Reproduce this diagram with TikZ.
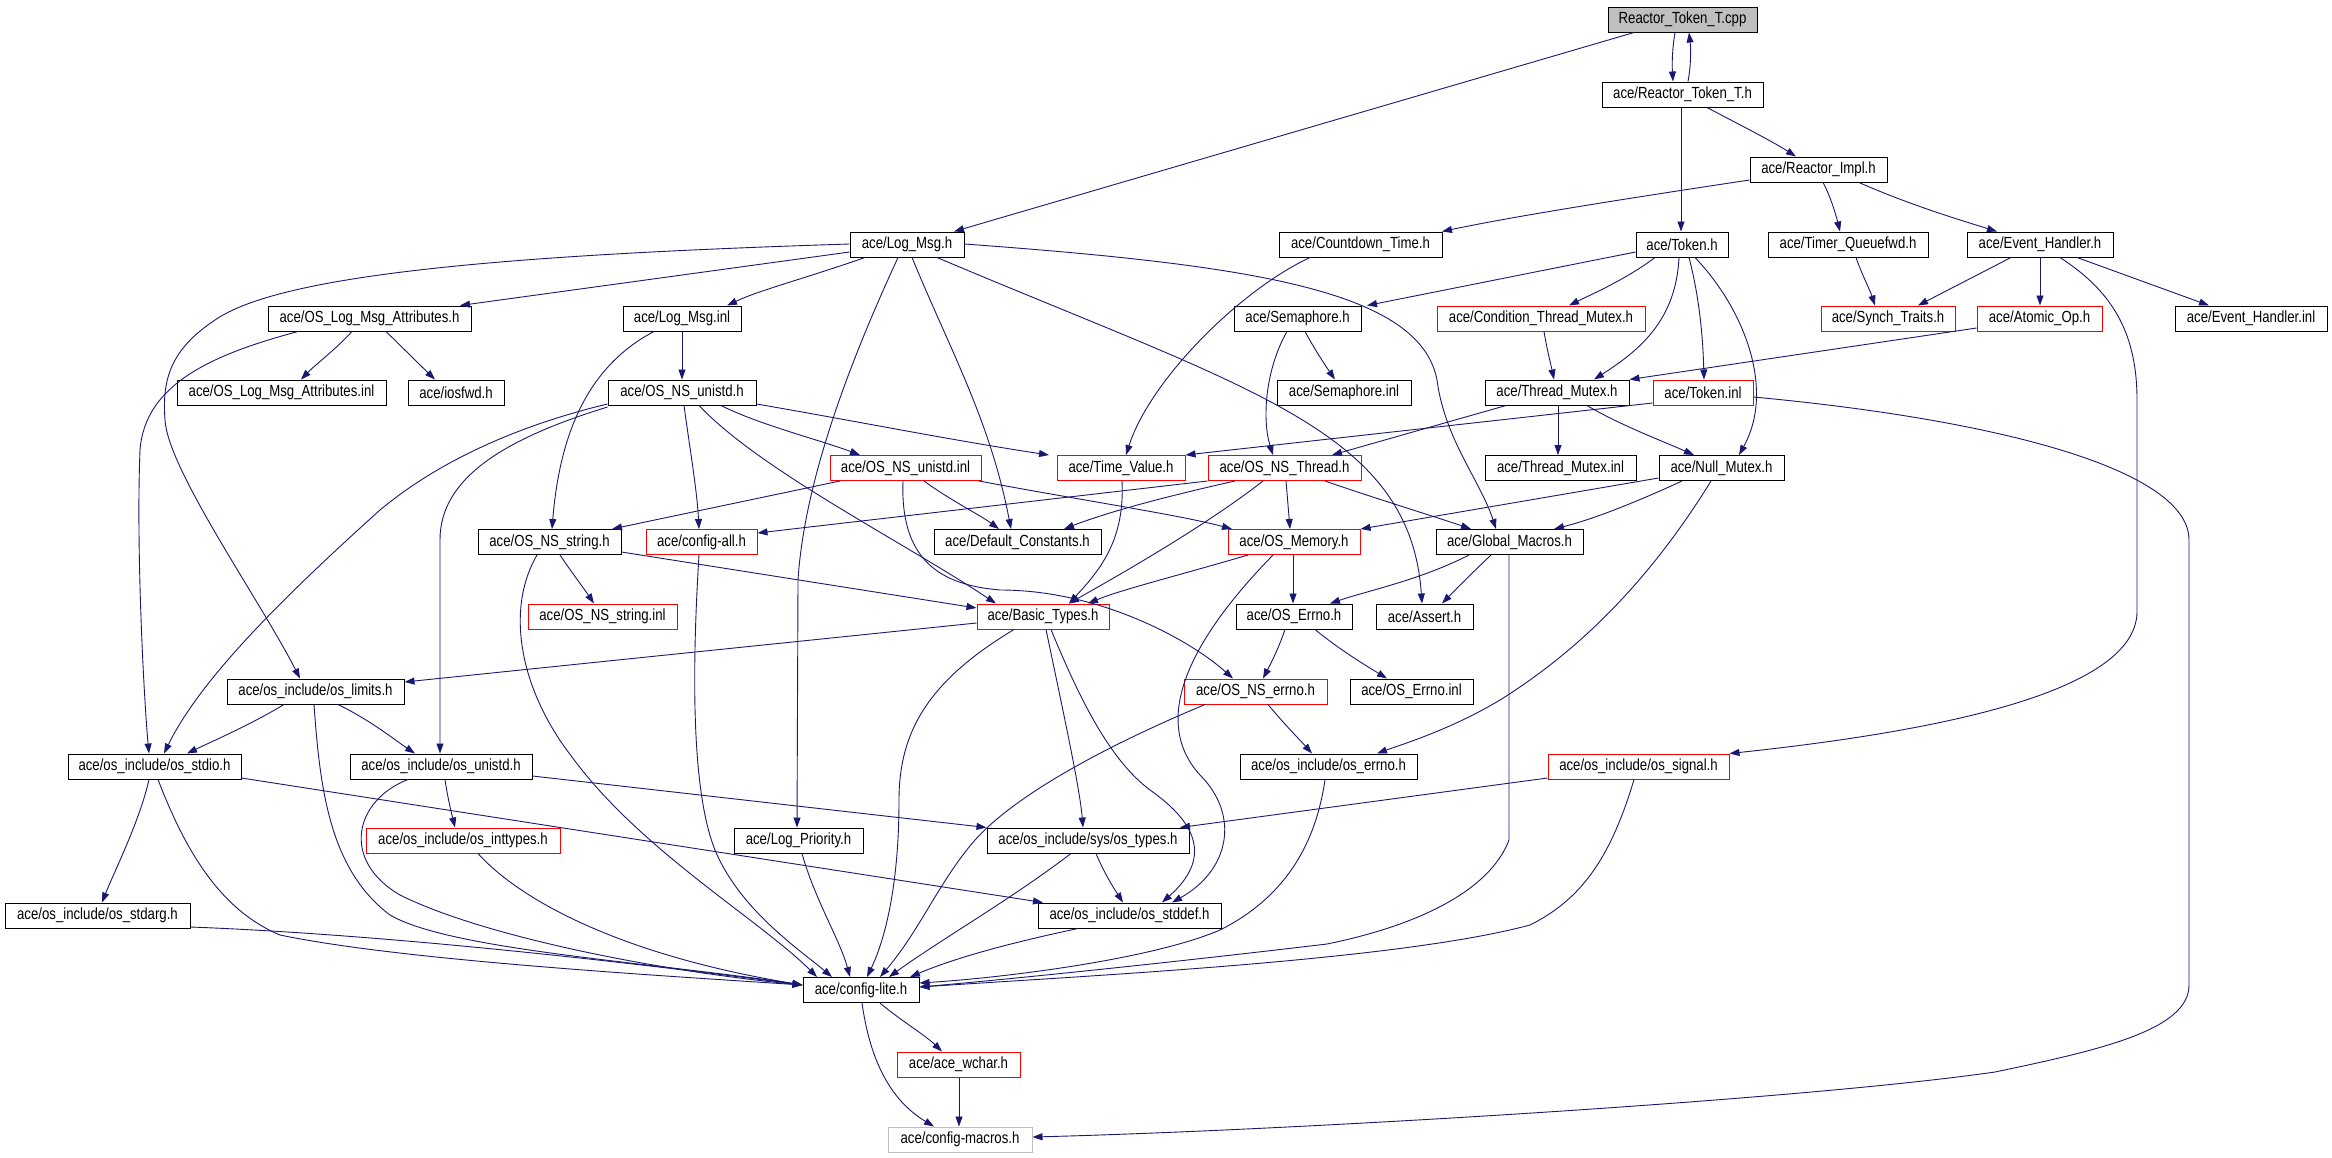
\documentclass[tikz,border=0pt]{standalone}
\usepackage{fontspec}
\usepackage{graphicx}
\setmainfont{Liberation Sans}
\usetikzlibrary{arrows.meta}
\definecolor{edgecol}{HTML}{191970}
\definecolor{lgray}{HTML}{BFBFBF}
\newcommand{\lbl}[1]{\scalebox{1}[1.22]{#1}}
\tikzset{
  nb/.style={draw=black, line width=1pt, minimum height=25pt, inner sep=0pt, fill=white, font=\fontsize{13.2}{15}\selectfont},
  rb/.style={nb, draw=red},
  dep/.style={draw=edgecol, line width=0.9pt, -{Triangle[length=10pt,width=7pt]}}
}
\begin{document}
\begin{tikzpicture}[x=1pt,y=-1pt]
\useasboundingbox (0,0) rectangle (2332,1157);
\fill[white] (0,0) rectangle (2332,1157);
% row 0-2
\node[nb, fill=lgray, minimum width=149pt] (cpp) at (1682.5,19.5) {\lbl{Reactor\_Token\_T.cpp}};
\node[nb, minimum width=161pt] (rtth) at (1682.5,94.5) {\lbl{ace/Reactor\_Token\_T.h}};
\node[nb, minimum width=137pt] (rimpl) at (1818.5,169.5) {\lbl{ace/Reactor\_Impl.h}};
% row 3
\node[nb, minimum width=114pt] (logmsg) at (907,244.5) {\lbl{ace/Log\_Msg.h}};
\node[nb, minimum width=163pt] (cdt) at (1360.5,244.5) {\lbl{ace/Countdown\_Time.h}};
\node[nb, minimum width=92pt] (token) at (1682,244.5) {\lbl{ace/Token.h}};
\node[nb, minimum width=160pt] (tqfwd) at (1848,244.5) {\lbl{ace/Timer\_Queuefwd.h}};
\node[nb, minimum width=146pt] (evh) at (2040,244.5) {\lbl{ace/Event\_Handler.h}};
% row 4
\node[nb, minimum width=203pt] (olma) at (369.5,318.5) {\lbl{ace/OS\_Log\_Msg\_Attributes.h}};
\node[nb, minimum width=118pt] (lminl) at (682,318.5) {\lbl{ace/Log\_Msg.inl}};
\node[nb, minimum width=127pt] (sema) at (1297.5,318.5) {\lbl{ace/Semaphore.h}};
\node[rb, minimum width=208pt] (ctm) at (1541,318.5) {\lbl{ace/Condition\_Thread\_Mutex.h}};
\node[rb, minimum width=134pt] (synch) at (1888,318.5) {\lbl{ace/Synch\_Traits.h}};
\node[rb, minimum width=125pt] (atomic) at (2039.5,318.5) {\lbl{ace/Atomic\_Op.h}};
\node[nb, minimum width=152pt] (evhinl) at (2251,318.5) {\lbl{ace/Event\_Handler.inl}};
% row 5
\node[nb, minimum width=209pt] (olmainl) at (281.5,392.5) {\lbl{ace/OS\_Log\_Msg\_Attributes.inl}};
\node[nb, minimum width=96pt] (iosfwd) at (456,392.5) {\lbl{ace/iosfwd.h}};
\node[nb, minimum width=148pt] (nsunistd) at (682,392.5) {\lbl{ace/OS\_NS\_unistd.h}};
\node[nb, minimum width=134pt] (semainl) at (1344,392.5) {\lbl{ace/Semaphore.inl}};
\node[nb, minimum width=144pt] (tmutex) at (1557,392.5) {\lbl{ace/Thread\_Mutex.h}};
\node[rb, minimum width=100pt] (tokeninl) at (1703,392.5) {\lbl{ace/Token.inl}};
% row 6
\node[rb, minimum width=151pt] (nsunistdinl) at (905.5,468) {\lbl{ace/OS\_NS\_unistd.inl}};
\node[rb, minimum width=128pt] (timeval) at (1121,468) {\lbl{ace/Time\_Value.h}};
\node[rb, minimum width=153pt] (nsthread) at (1284.5,468) {\lbl{ace/OS\_NS\_Thread.h}};
\node[nb, minimum width=151pt] (tmutexinl) at (1560.5,468) {\lbl{ace/Thread\_Mutex.inl}};
\node[nb, minimum width=125pt] (nullmutex) at (1721.5,468) {\lbl{ace/Null\_Mutex.h}};
% row 7
\node[nb, minimum width=143pt] (nsstring) at (549.5,542) {\lbl{ace/OS\_NS\_string.h}};
\node[rb, minimum width=111pt] (configall) at (701.5,542) {\lbl{ace/config-all.h}};
\node[nb, minimum width=167pt] (defconst) at (1017.5,542) {\lbl{ace/Default\_Constants.h}};
\node[rb, minimum width=132pt] (osmem) at (1294,542) {\lbl{ace/OS\_Memory.h}};
\node[nb, minimum width=147pt] (globmac) at (1509.5,542) {\lbl{ace/Global\_Macros.h}};
% row 8
\node[rb, minimum width=149pt] (nsstringinl) at (602.5,616.5) {\lbl{ace/OS\_NS\_string.inl}};
\node[rb, minimum width=132pt] (basictypes) at (1043,616.5) {\lbl{ace/Basic\_Types.h}};
\node[nb, minimum width=116pt] (oserrno) at (1294,616.5) {\lbl{ace/OS\_Errno.h}};
\node[nb, minimum width=97pt] (assert) at (1424.5,616.5) {\lbl{ace/Assert.h}};
% row 9
\node[nb, minimum width=177pt] (oslimits) at (315.5,691.5) {\lbl{ace/os\_include/os\_limits.h}};
\node[rb, minimum width=143pt] (nserrno) at (1255.5,691.5) {\lbl{ace/OS\_NS\_errno.h}};
\node[nb, minimum width=123pt] (oserrnoinl) at (1411.5,691.5) {\lbl{ace/OS\_Errno.inl}};
% row 10
\node[nb, minimum width=173pt] (osstdio) at (154.5,766.5) {\lbl{ace/os\_include/os\_stdio.h}};
\node[nb, minimum width=182pt] (osunistd) at (441,766.5) {\lbl{ace/os\_include/os\_unistd.h}};
\node[nb, minimum width=177pt] (oserrnoh) at (1328.5,766.5) {\lbl{ace/os\_include/os\_errno.h}};
\node[rb, minimum width=181pt] (ossignal) at (1638.5,766.5) {\lbl{ace/os\_include/os\_signal.h}};
% row 11
\node[rb, minimum width=194pt] (osinttypes) at (463,840.5) {\lbl{ace/os\_include/os\_inttypes.h}};
\node[nb, minimum width=129pt] (logprio) at (798.5,840.5) {\lbl{ace/Log\_Priority.h}};
\node[nb, minimum width=202pt] (ostypes) at (1088,840.5) {\lbl{ace/os\_include/sys/os\_types.h}};
% row 12
\node[nb, minimum width=185pt] (osstdarg) at (97.5,915.5) {\lbl{ace/os\_include/os\_stdarg.h}};
\node[nb, minimum width=183pt] (osstddef) at (1129.5,915.5) {\lbl{ace/os\_include/os\_stddef.h}};
% row 13-15
\node[nb, minimum width=116pt] (configlite) at (861,990) {\lbl{ace/config-lite.h}};
\node[rb, minimum width=123pt] (wchar) at (958.5,1064.5) {\lbl{ace/ace\_wchar.h}};
\node[nb, draw=lgray, minimum width=144pt] (cmacros) at (960,1139.5) {\lbl{ace/config-macros.h}};

% ---- edges ----
\draw[dep] (cpp.south -| 1675,0) .. controls (1672,50) and (1672,65) .. (rtth.north -| 1673,0);
\draw[dep] (rtth.north -| 1688,0) .. controls (1691,65) and (1691,50) .. (cpp.south -| 1689,0);
\draw[dep] (cpp.south -| 1634,0) -- (logmsg.north -| 954,0);
\draw[dep] (rtth.south -| 1681,0) -- (token.north -| 1681,0);
\draw[dep] (rtth.south -| 1707,0) .. controls (1740,125) and (1770,140) .. (rimpl.north -| 1796,0);
\draw[dep] (rimpl.west |- 0,180) .. controls (1650,195) and (1520,215) .. (cdt.north -| 1442,0);
\draw[dep] (rimpl.south -| 1823,0) .. controls (1830,195) and (1836,215) .. (tqfwd.north -| 1840,0);
\draw[dep] (rimpl.south -| 1859,0) .. controls (1910,205) and (1960,220) .. (evh.north -| 1997,0);
% Token.h
\draw[dep] (token.west |- 0,252) -- (sema.north -| 1367,0);
\draw[dep] (token.south -| 1655,0) .. controls (1625,280) and (1590,295) .. (ctm.north -| 1569,0);
\draw[dep] (token.south -| 1679,0) .. controls (1676,320) and (1640,350) .. (tmutex.north -| 1594,0);
\draw[dep] (token.south -| 1689,0) .. controls (1700,300) and (1703,340) .. (tokeninl.north -| 1704,0);
\draw[dep] (token.south -| 1695,0) .. controls (1745,310) and (1775,390) .. (nullmutex.north -| 1739,0);
% Timer_Queuefwd / Event_Handler
\draw[dep] (tqfwd.south -| 1856,0) .. controls (1862,275) and (1870,290) .. (synch.north -| 1875,0);
\draw[dep] (evh.south -| 2011,0) -- (synch.north -| 1918,0);
\draw[dep] (evh.south -| 2040,0) -- (atomic.north -| 2040,0);
\draw[dep] (evh.south -| 2077,0) -- (evhinl.north -| 2209,0);
\draw[dep] (evh.south -| 2060,0) .. controls (2110,290) and (2137,330) .. (2137,400) -- (2137,613) .. controls (2134,690) and (1950,730) .. (ossignal.north east);
\draw[dep] (atomic.west |- 0,328) -- (tmutex.north east);
% Token.inl
\draw[dep] (tokeninl.west |- 0,403) -- (timeval.north east);
\draw[dep] (tokeninl.east |- 0,397) .. controls (2000,420) and (2189,470) .. (2189,540) -- (2189,985) .. controls (2189,1030) and (2100,1050) .. (1995,1072) .. controls (1800,1100) and (1300,1130) .. (cmacros.east |- 0,1137);
% Thread_Mutex etc.
\draw[dep] (tmutex.south -| 1506,0) -- (nsthread.north -| 1332,0);
\draw[dep] (tmutex.south -| 1558,0) -- (tmutexinl.north -| 1558,0);
\draw[dep] (tmutex.south -| 1587,0) .. controls (1620,425) and (1660,440) .. (nullmutex.north -| 1694,0);
\draw[dep] (ctm.south -| 1544,0) .. controls (1547,350) and (1551,365) .. (tmutex.north -| 1554,0);
\draw[dep] (sema.south -| 1305,0) .. controls (1315,350) and (1325,365) .. (semainl.north -| 1335,0);
\draw[dep] (sema.south -| 1287,0) .. controls (1265,370) and (1262,420) .. (nsthread.north -| 1273,0);
\draw[dep] (cdt.south -| 1310,0) .. controls (1240,290) and (1150,380) .. (timeval.north -| 1126,0);
% Log_Msg.h
\draw[dep] (logmsg.west |- 0,252) -- (olma.north -| 460,0);
\draw[dep] (logmsg.west |- 0,244) .. controls (500,255) and (280,275) .. (215,320) .. controls (170,350) and (162,380) .. (165,420) .. controls (168,470) and (260,600) .. (oslimits.north -| 300,0);
\draw[dep] (logmsg.south -| 865,0) .. controls (800,280) and (760,290) .. (lminl.north -| 727,0);
\draw[dep] (logmsg.south -| 898,0) .. controls (860,340) and (805,470) .. (798,580) -- (logprio.north -| 797,0);
\draw[dep] (logmsg.south -| 912,0) .. controls (950,350) and (990,420) .. (defconst.north -| 1011,0);
\draw[dep] (logmsg.south -| 937,0) .. controls (1250,390) and (1410,430) .. (assert.north -| 1422,0);
\draw[dep] (logmsg.east |- 0,244) .. controls (1250,265) and (1420,290) .. (1437,380) .. controls (1445,440) and (1480,480) .. (globmac.north -| 1496,0);
% OS_Log_Msg_Attributes.h
\draw[dep] (olma.south -| 352,0) .. controls (335,350) and (315,365) .. (olmainl.north -| 301,0);
\draw[dep] (olma.south -| 386,0) .. controls (405,350) and (420,365) .. (iosfwd.north -| 435,0);
\draw[dep] (olma.south -| 298,0) .. controls (210,355) and (145,385) .. (140,450) .. controls (136,550) and (144,700) .. (osstdio.north -| 149,0);
% Log_Msg.inl
\draw[dep] (lminl.south -| 682,0) -- (nsunistd.north -| 682,0);
\draw[dep] (lminl.south -| 654,0) .. controls (590,365) and (560,430) .. (nsstring.north -| 552,0);
% OS_NS_unistd.h
\draw[dep] (nsunistd.west |- 0,404) .. controls (520,425) and (440,460) .. (380,510) .. controls (280,600) and (200,680) .. (osstdio.north -| 164,0);
\draw[dep] (nsunistd.west |- 0,407) .. controls (500,440) and (440,480) .. (440,540) -- (osunistd.north -| 440,0);
\draw[dep] (nsunistd.south -| 684,0) .. controls (690,450) and (697,490) .. (configall.north -| 699,0);
\draw[dep] (nsunistd.east |- 0,404) .. controls (850,420) and (950,440) .. (timeval.north -| 1049,0);
\draw[dep] (nsunistd.south -| 721,0) .. controls (760,425) and (820,440) .. (nsunistdinl.north -| 860,0);
\draw[dep] (nsunistd.south -| 699,0) .. controls (760,470) and (900,540) .. (basictypes.north -| 996,0);
% OS_NS_unistd.inl
\draw[dep] (nsunistdinl.south -| 840,0) -- (nsstring.north -| 612,0);
\draw[dep] (nsunistdinl.south -| 924,0) .. controls (950,500) and (980,515) .. (defconst.north -| 999,0);
\draw[dep] (nsunistdinl.south -| 979,0) .. controls (1080,500) and (1180,515) .. (osmem.north -| 1232,0);
\draw[dep] (nsunistdinl.south -| 903,0) .. controls (900,560) and (940,585) .. (1000,590) .. controls (1100,590) and (1190,640) .. (nserrno.north -| 1233,0);
% OS_NS_Thread.h
\draw[dep] (nsthread.south west) -- (configall.east |- 0,533);
\draw[dep] (nsthread.south -| 1235,0) .. controls (1150,500) and (1100,515) .. (defconst.north -| 1064,0);
\draw[dep] (nsthread.south -| 1263,0) .. controls (1200,530) and (1110,580) .. (basictypes.north -| 1069,0);
\draw[dep] (nsthread.south -| 1286,0) -- (osmem.north -| 1290,0);
\draw[dep] (nsthread.south -| 1325,0) .. controls (1380,500) and (1430,515) .. (globmac.north -| 1471,0);
% Time_Value.h
\draw[dep] (timeval.south -| 1122,0) .. controls (1125,540) and (1100,570) .. (basictypes.north -| 1069,0);
% Null_Mutex.h
\draw[dep] (nullmutex.west |- 0,478) -- (osmem.north east);
\draw[dep] (nullmutex.south -| 1682,0) .. controls (1630,505) and (1590,520) .. (globmac.north -| 1554,0);
\draw[dep] (nullmutex.south -| 1711,0) .. controls (1650,580) and (1580,650) .. (1500,700) .. controls (1450,730) and (1400,745) .. (oserrnoh.north -| 1377,0);
% OS_NS_string.h / config-all.h
\draw[dep] (nsstring.east |- 0,552) -- (basictypes.west |- 0,608);
\draw[dep] (nsstring.south -| 560,0) .. controls (570,570) and (585,590) .. (nsstringinl.north -| 594,0);
\draw[dep] (nsstring.south -| 537,0) .. controls (505,610) and (520,690) .. (572,757) .. controls (640,850) and (760,920) .. (configlite.north -| 817,0);
\draw[dep] (configall.south -| 699,0) .. controls (690,700) and (695,800) .. (715,850) .. controls (740,910) and (800,950) .. (configlite.north -| 832,0);
% OS_Memory.h
\draw[dep] (osmem.south -| 1248,0) .. controls (1180,575) and (1120,590) .. (basictypes.north -| 1088,0);
\draw[dep] (osmem.south -| 1293,0) -- (oserrno.north -| 1293,0);
\draw[dep] (osmem.south -| 1273,0) .. controls (1190,640) and (1150,720) .. (1200,775) .. controls (1240,815) and (1230,870) .. (osstddef.north -| 1172,0);
% Global_Macros.h
\draw[dep] (globmac.south -| 1469,0) .. controls (1420,580) and (1370,590) .. (oserrno.north -| 1330,0);
\draw[dep] (globmac.south -| 1491,0) .. controls (1470,575) and (1455,590) .. (assert.north -| 1442,0);
\draw[dep] (globmac.south -| 1509,0) -- (1509,840) .. controls (1490,890) and (1420,925) .. (1327,944) .. controls (1150,965) and (1000,980) .. (configlite.east |- 0,987);
% Basic_Types.h
\draw[dep] (basictypes.west |- 0,623) -- (oslimits.east |- 0,682);
\draw[dep] (basictypes.south -| 1014,0) .. controls (930,680) and (899,730) .. (899,800) .. controls (899,900) and (880,950) .. (configlite.north -| 867,0);
\draw[dep] (basictypes.south -| 1046,0) .. controls (1065,720) and (1080,790) .. (ostypes.north -| 1083,0);
\draw[dep] (basictypes.south -| 1051,0) .. controls (1080,700) and (1110,760) .. (1150,790) .. controls (1200,825) and (1210,860) .. (osstddef.north -| 1162,0);
% OS_Errno.h / OS_NS_errno.h
\draw[dep] (oserrno.south -| 1285,0) .. controls (1278,650) and (1270,665) .. (nserrno.north -| 1263,0);
\draw[dep] (oserrno.south -| 1315,0) .. controls (1340,650) and (1365,665) .. (oserrnoinl.north -| 1387,0);
\draw[dep] (nserrno.south -| 1268,0) .. controls (1285,725) and (1300,740) .. (oserrnoh.north -| 1312,0);
\draw[dep] (nserrno.south -| 1205,0) .. controls (1120,740) and (1020,790) .. (975,840) .. controls (940,880) and (920,930) .. (configlite.north -| 880,0);
% os_limits.h
\draw[dep] (oslimits.south -| 284,0) .. controls (250,725) and (215,740) .. (osstdio.north -| 187,0);
\draw[dep] (oslimits.south -| 338,0) .. controls (370,720) and (395,740) .. (osunistd.north -| 415,0);
\draw[dep] (oslimits.south -| 314,0) .. controls (320,790) and (330,870) .. (390,915) .. controls (450,950) and (650,962) .. (configlite.west |- 0,985);
% os_stdio.h
\draw[dep] (osstdio.south -| 149,0) .. controls (140,820) and (115,870) .. (osstdarg.north -| 102,0);
\draw[dep] (osstdio.south -| 158,0) .. controls (185,850) and (220,910) .. (280,935) .. controls (400,960) and (650,975) .. (configlite.west |- 0,985);
\draw[dep] (osstdio.east |- 0,778) -- (osstddef.north -| 1043,0);
% os_unistd.h
\draw[dep] (osunistd.south -| 445,0) .. controls (448,800) and (452,815) .. (osinttypes.north -| 455,0);
\draw[dep] (osunistd.south -| 408,0) .. controls (355,800) and (340,860) .. (400,895) .. controls (480,935) and (650,970) .. (configlite.west |- 0,985);
\draw[dep] (osunistd.east |- 0,776) -- (ostypes.north west);
% os_inttypes.h, os_stdarg.h, Log_Priority.h
\draw[dep] (osinttypes.south -| 478,0) .. controls (520,900) and (620,955) .. (configlite.west |- 0,985);
\draw[dep] (osstdarg.east |- 0,927) .. controls (400,935) and (650,965) .. (configlite.west |- 0,985);
\draw[dep] (logprio.south -| 802,0) .. controls (815,900) and (840,940) .. (configlite.north -| 850,0);
% os_errno.h, os_signal.h
\draw[dep] (oserrnoh.south -| 1325,0) .. controls (1315,850) and (1280,900) .. (1220,930) .. controls (1150,960) and (1000,978) .. (configlite.east |- 0,983);
\draw[dep] (ossignal.west |- 0,778) -- (ostypes.north -| 1180,0);
\draw[dep] (ossignal.south -| 1634,0) .. controls (1610,860) and (1580,900) .. (1530,925) .. controls (1400,960) and (1100,975) .. (configlite.east |- 0,987);
% os_types.h, os_stddef.h
\draw[dep] (ostypes.south -| 1096,0) .. controls (1105,875) and (1115,890) .. (osstddef.north -| 1123,0);
\draw[dep] (ostypes.south -| 1071,0) .. controls (1010,900) and (940,940) .. (configlite.north -| 889,0);
\draw[dep] (osstddef.south -| 1078,0) .. controls (1000,945) and (950,960) .. (configlite.north -| 910,0);
% config-lite.h
\draw[dep] (configlite.south -| 880,0) .. controls (900,1020) and (925,1035) .. (wchar.north -| 942,0);
\draw[dep] (configlite.south -| 862,0) .. controls (870,1060) and (890,1100) .. (cmacros.north -| 934,0);
\draw[dep] (wchar.south -| 959,0) -- (cmacros.north -| 959,0);
\end{tikzpicture}
\end{document}
